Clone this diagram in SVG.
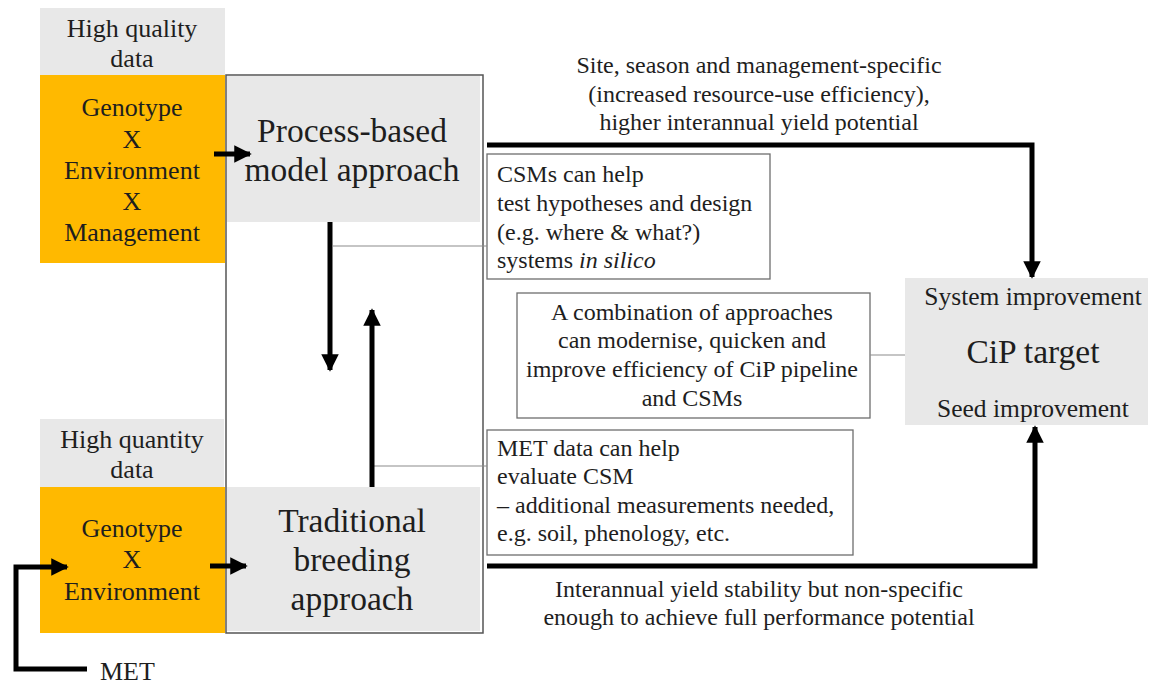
<svg xmlns="http://www.w3.org/2000/svg" width="1151" height="684" viewBox="0 0 1151 684" font-family="'Liberation Serif', Tinos, 'Times New Roman', serif">
  <defs>
    <style>
      text { font-family: 'Liberation Serif', Tinos, 'Times New Roman', serif; fill: #1e1e1e; }
      .big { font-size: 33.5px; text-anchor: middle; }
      .mid { font-size: 26px; text-anchor: middle; }
      .sm { font-size: 24px; }
      .c { text-anchor: middle; }
      .grey { fill: #e8e8e8; }
      .orange { fill: #ffb900; }
      .note { fill: #ffffff; stroke: #6e6e6e; stroke-width: 1.3; }
      .thick { fill: none; stroke: #000; stroke-width: 5; }
      .thin { fill: none; stroke: #8c8c8c; stroke-width: 1.2; }
    </style>
    <marker id="head" viewBox="0 0 10 10" refX="9" refY="5" markerWidth="3.5" markerHeight="3.5" orient="auto" markerUnits="strokeWidth">
      <path d="M0,0 L10,5 L0,10 Z" fill="#000"/>
    </marker>
  </defs>
  <rect width="1151" height="684" fill="#fff"/>

  <!-- outer frame around both approaches -->
  <rect x="226" y="75" width="257" height="558" fill="none" stroke="#555" stroke-width="1.5"/>

  <g id="hq-data">
    <rect class="grey" x="40" y="8" width="185" height="67"/>
    <text class="mid" x="132" y="37">High quality</text>
    <text class="mid" x="132" y="67">data</text>
  </g>
  <g id="gxexm">
    <rect class="orange" x="40" y="75" width="185" height="188"/>
    <text class="mid" x="132" y="116">Genotype</text>
    <text class="mid" x="132" y="148">X</text>
    <text class="mid" x="132" y="179">Environment</text>
    <text class="mid" x="132" y="210">X</text>
    <text class="mid" x="132" y="241">Management</text>
  </g>
  <g id="process-based">
    <rect class="grey" x="227" y="76" width="253" height="146"/>
    <text class="big" x="352" y="142">Process-based</text>
    <text class="big" x="352" y="181">model approach</text>
  </g>

  <g id="hn-data">
    <rect class="grey" x="40" y="419" width="184" height="68"/>
    <text class="mid" x="132" y="448">High quantity</text>
    <text class="mid" x="132" y="478">data</text>
  </g>
  <g id="gxe">
    <rect class="orange" x="40" y="487" width="185" height="146"/>
    <text class="mid" x="132" y="537">Genotype</text>
    <text class="mid" x="132" y="568">X</text>
    <text class="mid" x="132" y="600">Environment</text>
  </g>
  <g id="traditional">
    <rect class="grey" x="227" y="487" width="253" height="144"/>
    <text class="big" x="352" y="532">Traditional</text>
    <text class="big" x="352" y="571">breeding</text>
    <text class="big" x="352" y="610">approach</text>
  </g>

  <g id="met">
    <text x="100" y="680" font-size="26">MET</text>
  </g>

  <g id="csm-note">
    <rect class="note" x="487" y="154" width="283" height="125"/>
    <text class="sm" x="497" y="182">CSMs can help</text>
    <text class="sm" x="497" y="211">test hypotheses and design</text>
    <text class="sm" x="497" y="240">(e.g. where &amp; what?)</text>
    <text class="sm" x="497" y="268">systems <tspan font-style="italic">in silico</tspan></text>
  </g>
  <g id="combination-note">
    <rect class="note" x="517" y="293" width="353" height="125"/>
    <text class="sm c" x="692" y="320">A combination of approaches</text>
    <text class="sm c" x="692" y="348">can modernise, quicken and</text>
    <text class="sm c" x="692" y="377">improve efficiency of CiP pipeline</text>
    <text class="sm c" x="692" y="406">and CSMs</text>
  </g>
  <g id="met-note">
    <rect class="note" x="487" y="430" width="366" height="125"/>
    <text class="sm" x="497" y="456">MET data can help</text>
    <text class="sm" x="497" y="484">evaluate CSM</text>
    <text class="sm" x="497" y="513">– additional measurements needed,</text>
    <text class="sm" x="497" y="541">e.g. soil, phenology, etc.</text>
  </g>

  <g id="cip-target">
    <rect class="grey" x="905" y="278" width="243" height="147"/>
    <text class="c" x="1033" y="305" font-size="25.5">System improvement</text>
    <text class="c" x="1033" y="363" font-size="33.5">CiP target</text>
    <text class="c" x="1033" y="417" font-size="25.5">Seed improvement</text>
  </g>

  <g id="edge-labels">
    <text class="sm c" x="759" y="73">Site, season and management-specific</text>
    <text class="sm c" x="759" y="102">(increased resource-use efficiency),</text>
    <text class="sm c" x="759" y="130">higher interannual yield potential</text>
    <text class="sm c" x="759" y="597">Interannual yield stability but non-specific</text>
    <text class="sm c" x="759" y="625">enough to achieve full performance potential</text>
  </g>

  <g id="connectors">
    <!-- thin leader lines to the notes -->
    <line class="thin" x1="333" y1="246" x2="487" y2="246"/>
    <line class="thin" x1="372" y1="466" x2="487" y2="466"/>
    <line class="thin" x1="870" y1="355" x2="905" y2="355"/>
    <!-- inputs into the approaches -->
    <line class="thick" x1="214" y1="154" x2="250" y2="154" marker-end="url(#head)"/>
    <line class="thick" x1="210" y1="566" x2="246" y2="566" marker-end="url(#head)"/>
    <polyline class="thick" points="87,669 16,669 16,567 67,567" marker-end="url(#head)"/>
    <!-- exchange between the approaches -->
    <line class="thick" x1="330" y1="222" x2="330" y2="370" marker-end="url(#head)"/>
    <line class="thick" x1="372" y1="487" x2="372" y2="310" marker-end="url(#head)"/>
    <!-- outputs to the target -->
    <polyline class="thick" points="487,145 1032,145 1032,277" marker-end="url(#head)"/>
    <polyline class="thick" points="487,566 1035,566 1035,427" marker-end="url(#head)"/>
  </g>
</svg>
